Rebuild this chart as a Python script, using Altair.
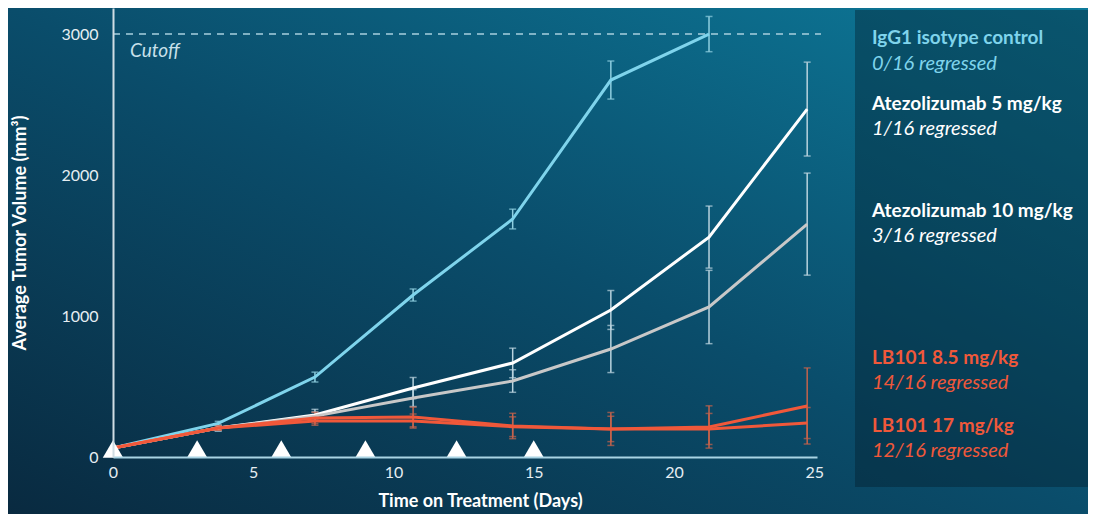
import altair as alt
import pandas as pd

days = [0, 3.75, 7.2, 10.7, 14.25, 17.75, 21.25, 24.75]
series = ["IgG1 isotype control", "Atezolizumab 5 mg/kg", "Atezolizumab 10 mg/kg",
          "LB101 8.5 mg/kg", "LB101 17 mg/kg"]
subtitles = ["0/16 regressed", "1/16 regressed", "3/16 regressed",
             "14/16 regressed", "12/16 regressed"]
igg1 = [64, 238, 567, 1149, 1688, 2674, 3000]
igg1_err = [0, 15, 35, 43, 70, 135, 125]
atezo5 = [64, 205, 298, 489, 667, 1043, 1560, 2468]
atezo5_err = [0, 20, 40, 75, 105, 138, 220, 333]
atezo10 = [64, 205, 290, 418, 539, 766, 1064, 1652]
atezo10_err = [0, 20, 30, 60, 80, 167, 260, 362]
lb8 = [64, 205, 277, 284, 220, 199, 213, 362]
lb8_err = [0, 15, 40, 70, 90, 117, 150, 270]
lb17 = [64, 205, 255, 255, 215, 199, 199, 241]
lb17_err = [0, 15, 30, 50, 70, 90, 110, 110]
dose_days = [0, 3, 6, 9, 12.25, 15]
cutoff = [3000]
x_ticks = [0, 5, 10, 15, 20, 25]
y_ticks = [0, 1000, 2000, 3000]

line_colors = ["#7fd4ec", "#ffffff", "#c8c8c8", "#f0583a", "#f0583a"]
err_colors = ["#8fcfe0", "#b9d3de", "#b9d3de", "#c4634c", "#c4634c"]
text_colors = ["#7fd4ec", "#ffffff", "#ffffff", "#f0583a", "#f0583a"]

rows = []
for name, vals, errs in zip(series, [igg1, atezo5, atezo10, lb8, lb17],
                            [igg1_err, atezo5_err, atezo10_err, lb8_err, lb17_err]):
    for i, (v, e) in enumerate(zip(vals, errs)):
        rows.append({"series": name, "day": days[i], "v": v, "lo": v - e, "hi": v + e, "e": e})
df = pd.DataFrame(rows)
err_df = df[df["e"] > 0]

W, H = 704, 449
PL, PR, PT, PB = 105, 1080 - 105 - 704, 0, 506 - 449

xs = alt.Scale(domain=[0, 25.1], nice=False)
ys = alt.Scale(domain=[0, 3185], nice=False)
col_err = alt.Scale(domain=series, range=err_colors)
col_line = alt.Scale(domain=series, range=line_colors)

one = pd.DataFrame({"a": [0]})

bg = alt.Chart(one).mark_rect(
    color=alt.Gradient(
        gradient="linear", x1=0, y1=1, x2=1, y2=0,
        stops=[alt.GradientStop(color="#092a40", offset=0),
               alt.GradientStop(color="#0a4d6b", offset=0.5),
               alt.GradientStop(color="#0d7a9a", offset=1)])
).encode(x=alt.value(-PL), x2=alt.value(W + PR), y=alt.value(-PT), y2=alt.value(H + PB))

panel = alt.Chart(one).mark_rect(color="#021a28", opacity=0.38).encode(
    x=alt.value(742), x2=alt.value(W + PR), y=alt.value(2), y2=alt.value(479))

common = dict(grid=False, ticks=False, domainWidth=2, labelColor="#e6eef2", labelFontSize=16,
              labelFont="Lato", titleFont="Lato", titleColor="#ffffff", titleFontSize=18,
              titleFontWeight="bold", zindex=1)

axes_base = alt.Chart(df).mark_line(opacity=0).encode(
    x=alt.X("day:Q", scale=xs, axis=alt.Axis(
        values=x_ticks, title="Time on Treatment (Days)", domainColor="#a9d4e4",
        labelPadding=7, titlePadding=12, titleX=367, labelFlush=False, **common)),
    y=alt.Y("v:Q", scale=ys, axis=alt.Axis(
        values=y_ticks, format="d", title="Average Tumor Volume (mm³)", domainColor="#d0dde4",
        labelPadding=15, titlePadding=31, **common)),
)

cut_df = pd.DataFrame({"v": cutoff, "t": ["Cutoff"]})
cut_rule = alt.Chart(cut_df).mark_rule(strokeDash=[7, 6], color="#a8d0de", strokeWidth=1.5).encode(
    y=alt.Y("v:Q", scale=ys), x=alt.value(0), x2=alt.value(W + 4))
cut_text = alt.Chart(cut_df).mark_text(align="left", baseline="middle", dy=17, fontStyle="italic",
                                        font="Lato", fontSize=19, color="#c8e0ea").encode(
    y=alt.Y("v:Q", scale=ys), x=alt.value(17), text="t:N")

err_rule = alt.Chart(err_df).mark_rule(strokeWidth=1.5).encode(
    x=alt.X("day:Q", scale=xs), y=alt.Y("lo:Q", scale=ys), y2="hi:Q",
    color=alt.Color("series:N", scale=col_err, legend=None))
err_lo = alt.Chart(err_df).mark_tick(orient="horizontal", size=7, thickness=1.5).encode(
    x=alt.X("day:Q", scale=xs), y=alt.Y("lo:Q", scale=ys),
    color=alt.Color("series:N", scale=col_err, legend=None))
err_hi = alt.Chart(err_df).mark_tick(orient="horizontal", size=7, thickness=1.5).encode(
    x=alt.X("day:Q", scale=xs), y=alt.Y("hi:Q", scale=ys),
    color=alt.Color("series:N", scale=col_err, legend=None))
errs = alt.layer(err_rule, err_lo, err_hi)

lines = alt.Chart(df).mark_line(strokeWidth=3).encode(
    x=alt.X("day:Q", scale=xs), y=alt.Y("v:Q", scale=ys),
    color=alt.Color("series:N", scale=col_line, legend=None),
    detail="series:N")

dose_df = pd.DataFrame({"d": dose_days, "v": [0] * len(dose_days)})
doses = alt.Chart(dose_df).mark_point(shape="triangle-up", filled=True, size=420, color="white",
                                      opacity=1, yOffset=-8).encode(
    x=alt.X("d:Q", scale=xs), y=alt.Y("v:Q", scale=ys))

legend_y = [(30, 56), (96, 121), (203, 228), (350, 375), (418, 443)]
leg_layers = []
for name, sub, c, (y1, y2) in zip(series, subtitles, text_colors, legend_y):
    t = pd.DataFrame({"t": [name], "s": [sub]})
    leg_layers.append(alt.Chart(t).mark_text(align="left", baseline="middle", font="Lato",
                                             fontWeight="bold", fontSize=19, color=c).encode(
        x=alt.value(759), y=alt.value(y1), text="t:N"))
    leg_layers.append(alt.Chart(t).mark_text(align="left", baseline="middle", font="Lato",
                                             fontStyle="italic", fontSize=20, color=c).encode(
        x=alt.value(759), y=alt.value(y2), text="s:N"))

chart = alt.layer(bg, panel, axes_base, cut_rule, cut_text, errs,
                  lines, doses, *leg_layers).resolve_scale(color="independent").properties(
    width=W, height=H,
    autosize=alt.AutoSizeParams(type="none"),
    padding={"left": PL, "right": PR, "top": PT, "bottom": PB},
    background="#0a4a67",
).configure_view(stroke=None)

chart.save("out.html", embed_options={"renderer": "svg", "actions": False})
